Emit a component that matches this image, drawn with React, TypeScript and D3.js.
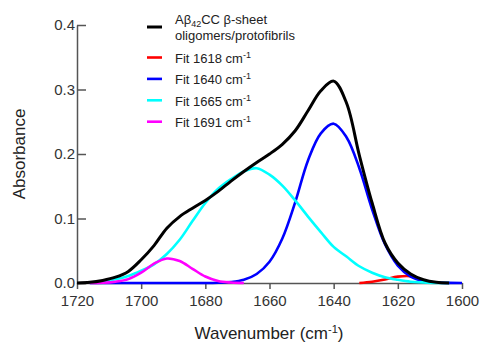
import React, { useRef, useEffect } from 'react';
import { select, scaleLinear, axisBottom, axisLeft, line, curveCatmullRom, format } from 'd3';

// wavenumber grid (cm-1), shared by every curve
const wavenumbers = [
    1720, 1716, 1712, 1708, 1704, 1700, 1696, 1692, 1688, 1684, 1680, 1676, 1672, 1668, 1664, 1660,
    1656, 1652, 1648, 1644, 1640, 1636, 1632, 1628, 1624, 1620, 1616, 1612, 1608, 1604, 1600,
];

// measured spectrum (black)
const measured = [
    0.0, 0.001, 0.004, 0.009, 0.018, 0.036, 0.058, 0.085, 0.103, 0.116, 0.128, 0.142, 0.158, 0.173, 0.187, 0.2,
    0.215, 0.236, 0.267, 0.298, 0.313, 0.279, 0.198, 0.124, 0.062, 0.031, 0.014, 0.005, 0.001, 0.0, null,
];
const fit1618 = [
    null, null, null, null, null, null, null, null, null, null, null, null, null, null, null, null,
    null, null, null, null, null, null, 0.0, 0.002, 0.0055, 0.0099, 0.0105, 0.004, null, null, null,
];
const fit1640 = [
    null, 0.0, 0.0, 0.0, 0.0, 0.0, 0.0, 0.0, 0.0, 0.0, 0.0, 0.0004, 0.0015, 0.005, 0.014, 0.033,
    0.069, 0.125, 0.19, 0.232, 0.247, 0.226, 0.178, 0.114, 0.06, 0.027, 0.01, 0.003, 0.001, 0.0002, 0.0,
];
const fit1665 = [
    null, 0.0, 0.003, 0.006, 0.011, 0.019, 0.029, 0.045, 0.067, 0.096, 0.124, 0.146, 0.161, 0.173, 0.178, 0.168,
    0.151, 0.128, 0.103, 0.079, 0.056, 0.041, 0.026, 0.016, 0.009, 0.005, 0.002, 0.001, 0.0, 0.0, null,
];
const fit1691 = [
    null, 0.0, 0.0003, 0.002, 0.006, 0.016, 0.03, 0.038, 0.034, 0.022, 0.01, 0.003, 0.0007, 0.0, null, null,
    null, null, null, null, null, null, null, null, null, null, null, null, null, null, null,
];

const xTicks = [1720, 1700, 1680, 1660, 1640, 1620, 1600];
const yTicks = [0, 0.1, 0.2, 0.3, 0.4];

const fits = [
    { name: '1618', values: fit1618, color: '#ff0000' },
    { name: '1640', values: fit1640, color: '#0000ff' },
    { name: '1665', values: fit1665, color: '#00ffff' },
    { name: '1691', values: fit1691, color: '#ff00ff' },
];

const font = "'Liberation Sans', Arial, sans-serif";

export default function App() {
    const svgRef: { current: SVGSVGElement | null } = useRef(null);

    const xScale = scaleLinear().domain([1720, 1600]).range([77, 462]);
    const yScale = scaleLinear().domain([0, 0.4]).range([283, 25]);

    const makeLine = (values: (number | null)[]) =>
        line<number>()
            .defined((d, i) => values[i] != null)
            .x((d, i) => xScale(wavenumbers[i]))
            .y((d, i) => yScale(values[i] as number))
            .curve(curveCatmullRom.alpha(0.5))(wavenumbers as any) || '';

    useEffect(() => {
        const svg = select(svgRef.current);
        const xAxis: any = axisBottom(xScale).tickValues(xTicks).tickSize(6).tickSizeOuter(0).tickPadding(6).tickFormat(format('d'));
        const yAxis: any = axisLeft(yScale).tickValues(yTicks).tickSize(-9).tickSizeOuter(0).tickPadding(2).tickFormat(format('.1f'));

        svg.select('.x-axis').attr('transform', 'translate(0,283)').call(xAxis);
        svg.select('.y-axis').attr('transform', 'translate(77,0)').call(yAxis);

        svg.selectAll('.domain, .tick line').attr('stroke', '#555').attr('stroke-width', 1.5);
        svg.selectAll('.tick text').attr('fill', '#333').style('font-size', '15px').style('font-family', font);
    }, []);

    return (
        <svg ref={svgRef} width={481} height={344} style={{ position: 'absolute', left: 0, top: 0, background: '#fff' }}>
            <g className="x-axis" />
            <g className="y-axis" />

            {fits.map((f) => (
                <path key={f.name} d={makeLine(f.values)} fill="none" stroke={f.color} strokeWidth={2.6} />
            ))}
            <path d={makeLine(measured)} fill="none" stroke="#000" strokeWidth={3} />

            {/* legend */}
            <g fontFamily={font} fill="#222" fontSize={13}>
                <line x1={147} x2={162} y1={27} y2={27} stroke="#000" strokeWidth={3} />
                <text x={175} y={24}>
                    Aβ<tspan fontSize={9} dy={3}>42</tspan>
                    <tspan dy={-3}>CC β-sheet</tspan>
                </text>
                <text x={175} y={39.5}>oligomers/protofibrils</text>
                {fits.map((f, i) => (
                    <g key={f.name}>
                        <line x1={147} x2={162} y1={57.5 + i * 21.4} y2={57.5 + i * 21.4} stroke={f.color} strokeWidth={2.6} />
                        <text x={175} y={63 + i * 21.4}>
                            Fit {f.name} cm<tspan fontSize={9} dy={-5}>-1</tspan>
                        </text>
                    </g>
                ))}
            </g>

            {/* axis titles */}
            <text x={269} y={339} textAnchor="middle" fontFamily={font} fontSize={17} fill="#222">
                Wavenumber (cm<tspan fontSize={11} dy={-6}>-1</tspan>
                <tspan dy={6}>)</tspan>
            </text>
            <text transform="translate(25,154) rotate(-90)" textAnchor="middle" fontFamily={font} fontSize={17} fill="#222">
                Absorbance
            </text>
        </svg>
    );
}
